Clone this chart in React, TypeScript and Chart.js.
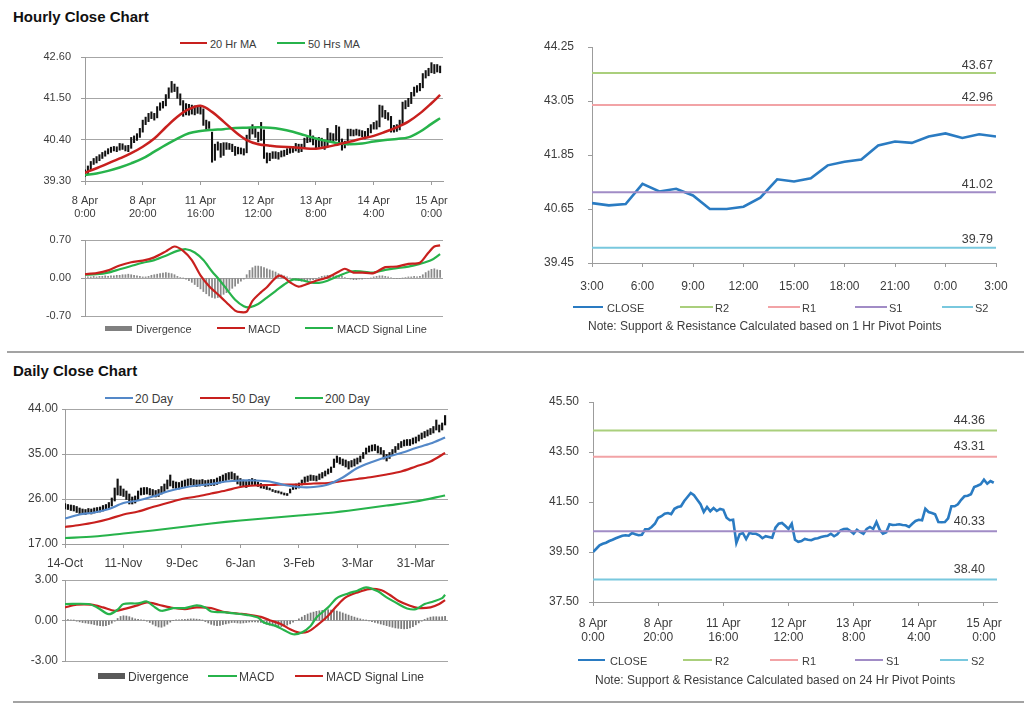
import React, { useEffect, useRef } from 'react';
import { Chart, registerables } from 'chart.js';
Chart.register(...registerables);

const FONT = 'Arial, "Liberation Sans", Helvetica, sans-serif';
const TXT = '#3c3c3c';
const GRID = '#a6a6a6';
const AXIS = '#9c9c9c';
const RED = '#c8201e';
const GREEN = '#27b34b';
const BLUE20 = '#5488c8';
const CLOSE_BLUE = '#2a7bc2';
const DIV_GRAY = '#8a8a8a';

// ---------------- Hourly close chart ----------------
const hourlyTickIdx = [0, 20, 40, 60, 80, 100, 120];
const hourlyTickLabels = [['8 Apr', '0:00'], ['8 Apr', '20:00'], ['11 Apr', '16:00'], ['12 Apr', '12:00'], ['13 Apr', '8:00'], ['14 Apr', '4:00'], ['15 Apr', '0:00']];
const hourlyPriceTicks = [39.3, 40.4, 41.5, 42.6];

const hourlyClose = [
  39.50, 39.63, 39.77, 39.83, 39.87, 39.94, 39.99, 40.05, 40.10, 40.15,
  40.17, 40.15, 40.26, 40.21, 40.17, 40.19, 40.41, 40.41, 40.50, 40.63,
  40.87, 40.93, 41.03, 41.06, 41.01, 41.23, 41.30, 41.33, 41.54, 41.70,
  41.86, 41.77, 41.59, 41.41, 41.10, 41.30, 41.13, 41.26, 41.14, 41.22,
  41.19, 40.87, 40.77, 40.79, 39.86, 40.21, 40.26, 40.02, 40.26, 40.23,
  40.23, 40.17, 40.05, 40.13, 40.10, 40.07, 40.47, 40.63, 40.66, 40.55,
  40.42, 40.63, 39.99, 39.91, 39.94, 40.02, 39.99, 39.97, 40.03, 40.05,
  40.10, 40.13, 40.15, 40.23, 40.13, 40.21, 40.37, 40.42, 40.43, 40.34,
  40.23, 40.39, 40.30, 40.23, 40.42, 40.50, 40.42, 40.70, 40.39, 40.23,
  40.29, 40.61, 40.58, 40.59, 40.61, 40.58, 40.57, 40.50, 40.63, 40.74,
  40.79, 40.77, 41.23, 41.10, 41.06, 41.01, 40.70, 40.69, 40.70, 40.85,
  41.33, 41.33, 41.41, 41.59, 41.73, 41.75, 41.81, 42.10, 42.15, 42.21,
  42.39, 42.23, 42.34, 42.27,
];
const hourlyLow = [
  39.42, 39.48, 39.60, 39.74, 39.78, 39.84, 39.90, 39.96, 40.02, 40.06,
  40.10, 40.08, 40.12, 40.14, 40.10, 40.08, 40.17, 40.32, 40.38, 40.46,
  40.60, 40.80, 40.88, 40.96, 40.92, 40.98, 41.18, 41.24, 41.30, 41.50,
  41.66, 41.68, 41.50, 41.32, 41.02, 41.06, 41.05, 41.08, 41.06, 41.10,
  41.08, 40.78, 40.68, 40.70, 39.80, 39.85, 40.12, 39.93, 39.98, 40.14,
  40.14, 40.08, 39.98, 40.02, 40.02, 39.99, 40.05, 40.42, 40.55, 40.46,
  40.34, 40.38, 39.90, 39.78, 39.84, 39.90, 39.90, 39.88, 39.94, 39.96,
  40.00, 40.04, 40.06, 40.10, 40.06, 40.08, 40.18, 40.32, 40.34, 40.26,
  40.16, 40.20, 40.22, 40.14, 40.20, 40.36, 40.34, 40.38, 40.28, 40.12,
  40.18, 40.26, 40.50, 40.50, 40.52, 40.50, 40.48, 40.42, 40.46, 40.58,
  40.68, 40.68, 40.74, 41.00, 40.96, 40.92, 40.60, 40.60, 40.62, 40.66,
  40.82, 41.22, 41.28, 41.36, 41.56, 41.66, 41.70, 41.78, 42.04, 42.10,
  42.18, 42.16, 42.20, 42.18,
];
const hourlyHigh = [
  39.60, 39.70, 39.82, 39.90, 39.95, 40.00, 40.06, 40.10, 40.16, 40.20,
  40.22, 40.21, 40.30, 40.29, 40.24, 40.25, 40.46, 40.50, 40.56, 40.70,
  40.92, 41.00, 41.10, 41.14, 41.10, 41.28, 41.38, 41.42, 41.60, 41.78,
  41.95, 41.88, 41.80, 41.62, 41.44, 41.36, 41.34, 41.32, 41.30, 41.30,
  41.28, 41.22, 40.92, 40.88, 40.60, 40.28, 40.34, 40.30, 40.32, 40.32,
  40.30, 40.28, 40.22, 40.20, 40.18, 40.16, 40.52, 40.72, 40.80, 40.70,
  40.60, 40.86, 40.66, 40.05, 40.04, 40.08, 40.08, 40.06, 40.10, 40.12,
  40.16, 40.20, 40.22, 40.30, 40.28, 40.28, 40.44, 40.50, 40.66, 40.50,
  40.40, 40.46, 40.44, 40.36, 40.70, 40.58, 40.56, 40.78, 40.74, 40.42,
  40.36, 40.68, 40.68, 40.66, 40.68, 40.66, 40.64, 40.62, 40.70, 40.80,
  40.86, 40.90, 41.32, 41.30, 41.18, 41.12, 41.02, 40.78, 40.80, 40.92,
  41.40, 41.44, 41.50, 41.66, 41.80, 41.84, 41.90, 42.16, 42.24, 42.30,
  42.45, 42.40, 42.40, 42.36,
];
const hourlyMaIdx = [0, 4, 8, 12, 16, 20, 24, 28, 32, 36, 40, 44, 48, 52, 56, 60, 64, 68, 72, 76, 80, 84, 88, 92, 96, 100, 104, 108, 112, 116, 120, 123];
const ma20Hr = [39.52, 39.64, 39.77, 39.90, 40.04, 40.21, 40.43, 40.73, 41.01, 41.21, 41.30, 41.14, 40.88, 40.61, 40.39, 40.28, 40.24, 40.21, 40.20, 40.17, 40.16, 40.21, 40.28, 40.35, 40.43, 40.50, 40.61, 40.73, 40.88, 41.10, 41.37, 41.59];
const ma50Hr = [39.46, 39.50, 39.57, 39.66, 39.77, 39.90, 40.08, 40.26, 40.43, 40.57, 40.63, 40.66, 40.68, 40.71, 40.72, 40.73, 40.72, 40.68, 40.61, 40.52, 40.43, 40.36, 40.30, 40.28, 40.30, 40.35, 40.39, 40.42, 40.46, 40.61, 40.82, 40.97];

const hourlyMacdTicks = [-0.7, 0, 0.7];
const hMacdIdx = [0, 4, 8, 12, 16, 20, 24, 28, 31, 34, 37, 40, 43, 46, 49, 52, 54, 56, 58, 61, 63, 65, 67, 69, 71, 74, 77, 80, 84, 88, 90, 93, 96, 100, 104, 108, 112, 116, 119, 121, 123];
const hMacd = [0.07, 0.09, 0.14, 0.23, 0.29, 0.32, 0.38, 0.49, 0.58, 0.50, 0.33, 0.05, -0.15, -0.30, -0.45, -0.60, -0.63, -0.62, -0.42, -0.26, -0.17, -0.05, 0.04, 0.01, -0.08, -0.16, -0.11, -0.05, 0.01, 0.12, 0.17, 0.10, 0.10, 0.09, 0.20, 0.21, 0.26, 0.28, 0.47, 0.58, 0.60];
const hSignalIdx = [0, 4, 8, 12, 16, 20, 24, 28, 32, 35, 38, 41, 44, 46, 49, 52, 55, 57, 60, 63, 66, 69, 72, 75, 78, 81, 84, 88, 92, 96, 100, 104, 108, 112, 116, 120, 123];
const hSignal = [0.06, 0.07, 0.10, 0.16, 0.22, 0.28, 0.33, 0.41, 0.50, 0.53, 0.47, 0.33, 0.12, 0.00, -0.20, -0.40, -0.52, -0.54, -0.48, -0.36, -0.24, -0.12, -0.03, -0.04, -0.08, -0.09, -0.05, 0.04, 0.12, 0.12, 0.10, 0.15, 0.18, 0.21, 0.26, 0.33, 0.44];
const hDivergence = [
  0.01, 0.02, 0.02, 0.03, 0.02, 0.03, 0.03, 0.04, 0.03, 0.04,
  0.04, 0.05, 0.05, 0.06, 0.06, 0.07, 0.06, 0.05, 0.04, 0.03,
  0.02, 0.02, 0.03, 0.05, 0.06, 0.07, 0.08, 0.09, 0.10, 0.09,
  0.08, 0.06, 0.03, 0.01, 0.00, -0.02, -0.05, -0.08, -0.12, -0.16,
  -0.20, -0.25, -0.29, -0.33, -0.36, -0.37, -0.36, -0.33, -0.30, -0.27,
  -0.23, -0.19, -0.15, -0.10, -0.06, -0.02, 0.06, 0.14, 0.19, 0.22,
  0.22, 0.21, 0.19, 0.17, 0.15, 0.13, 0.11, 0.08, 0.06, 0.04,
  0.02, 0.00, -0.02, -0.04, -0.05, -0.06, -0.06, -0.05, -0.04, -0.03,
  -0.02, 0.01, 0.03, 0.04, 0.05, 0.05, 0.05, 0.04, 0.04, 0.03,
  0.01, -0.01, -0.02, -0.03, -0.03, -0.02, -0.02, -0.01, -0.01, 0.00,
  0.02, 0.03, 0.04, 0.04, 0.03, 0.02, 0.01, -0.01, -0.01, -0.01,
  0.00, 0.01, 0.02, 0.02, 0.03, 0.02, 0.03, 0.06, 0.10, 0.13,
  0.16, 0.17, 0.15, 0.14,
];

// ---------------- 1 Hr pivot chart ----------------
const pivot1TickIdx = [0, 3, 6, 9, 12, 15, 18, 21, 24];
const pivot1TickLabels = ['3:00', '6:00', '9:00', '12:00', '15:00', '18:00', '21:00', '0:00', '3:00'];
const pivot1Ticks = [39.45, 40.65, 41.85, 43.05, 44.25];
const pivot1Close = [40.78, 40.73, 40.76, 41.21, 41.04, 41.10, 40.95, 40.65, 40.65, 40.70, 40.90, 41.31, 41.26, 41.33, 41.62, 41.70, 41.75, 42.06, 42.15, 42.12, 42.26, 42.33, 42.23, 42.31, 42.26];
const pivotNames = ['R2', 'R1', 'S1', 'S2'];
const pivotColors = ['#aacf7c', '#f2a3a6', '#a18cc6', '#79c8de'];
const pivot1Values = [43.67, 42.96, 41.02, 39.79];

// ---------------- 24 Hr pivot chart ----------------
const pivot24Ticks = [37.5, 39.5, 41.5, 43.5, 45.5];
const pivot24Values = [44.36, 43.31, 40.33, 38.40];

// ---------------- Daily close chart ----------------
const dailyTickIdx = [0, 20, 40, 60, 80, 100, 120];
const dailyTickLabels = ['14-Oct', '11-Nov', '9-Dec', '6-Jan', '3-Feb', '3-Mar', '31-Mar'];
const dailyPriceTicks = [17, 26, 35, 44];
const dailyLow = [
  24.0, 23.9, 23.7, 23.6, 23.3, 23.1, 23.0, 22.9, 23.1, 23.0,
  23.2, 23.3, 23.4, 23.6, 23.9, 24.2, 24.6, 25.6, 26.8, 26.7,
  26.5, 25.9, 25.0, 25.0, 25.2, 25.9, 26.8, 26.9, 27.0, 26.8,
  26.6, 26.4, 26.5, 27.0, 27.4, 28.0, 28.6, 28.2, 28.1, 28.0,
  28.3, 28.5, 28.7, 28.8, 28.6, 28.5, 28.6, 28.7, 28.5, 28.6,
  28.7, 28.7, 28.9, 29.2, 29.4, 29.7, 29.9, 30.0, 29.6, 29.0,
  28.7, 28.5, 28.3, 28.7, 28.9, 28.7, 28.5, 28.2, 28.1, 27.9,
  27.8, 27.5, 27.3, 27.2, 27.0, 26.8, 26.7, 27.2, 27.9, 28.0,
  28.2, 28.8, 29.3, 29.5, 29.7, 29.7, 29.6, 29.9, 30.2, 30.6,
  31.0, 31.3, 32.3, 33.3, 33.0, 32.7, 32.4, 32.0, 32.4, 32.6,
  33.0, 33.4, 34.1, 35.0, 35.4, 35.6, 35.7, 35.2, 35.0, 34.0,
  33.6, 34.1, 34.7, 35.3, 35.9, 36.3, 36.6, 36.7, 36.7, 37.0,
  37.2, 37.6, 38.0, 38.3, 38.6, 38.9, 39.2, 39.8, 39.4, 39.8,
  40.8,
];
const dailyHigh = [
  25.1, 24.9, 24.8, 24.7, 24.5, 24.2, 24.0, 23.9, 24.1, 24.0,
  24.2, 24.3, 24.4, 24.7, 24.9, 25.3, 26.2, 28.2, 30.0, 28.6,
  28.0, 27.6, 27.0, 26.4, 26.6, 27.6, 28.2, 28.3, 28.3, 28.1,
  27.9, 27.7, 27.9, 28.5, 29.0, 29.8, 30.8, 29.6, 29.4, 29.3,
  29.6, 29.8, 30.0, 30.1, 29.9, 29.8, 29.8, 29.9, 29.7, 29.8,
  29.9, 29.9, 30.2, 30.5, 30.8, 31.1, 31.3, 31.4, 31.1, 30.6,
  30.1, 29.8, 29.5, 29.9, 30.1, 29.9, 29.4, 29.1, 28.7, 28.5,
  28.2, 27.9, 27.7, 27.6, 27.4, 27.2, 27.1, 28.0, 28.8, 29.0,
  29.2, 29.8, 30.4, 30.6, 30.8, 30.7, 30.6, 31.0, 31.3, 31.6,
  32.0, 32.4, 34.0, 34.6, 34.3, 34.0, 33.8, 33.5, 33.7, 34.0,
  34.2, 34.6, 35.3, 36.2, 36.6, 36.8, 36.9, 36.6, 36.3, 35.7,
  34.9, 35.3, 35.9, 36.5, 37.1, 37.5, 37.8, 37.9, 37.9, 38.2,
  38.4, 38.8, 39.2, 39.5, 39.8, 40.1, 40.5, 41.8, 40.8, 41.2,
  42.7,
];
const dailyMaIdx = [0, 5, 10, 15, 20, 25, 30, 35, 40, 45, 50, 55, 60, 65, 70, 75, 80, 85, 90, 95, 100, 105, 110, 115, 120, 125, 130];
const ma20Day = [22.1, 22.9, 23.3, 24.0, 25.2, 25.7, 26.5, 27.5, 28.2, 28.7, 29.0, 29.5, 29.7, 29.7, 29.5, 28.8, 28.4, 28.4, 28.9, 30.3, 32.2, 33.4, 34.4, 35.2, 36.2, 37.1, 38.3];
const ma50Day = [20.4, 20.8, 21.3, 22.0, 22.9, 23.5, 24.4, 25.2, 26.0, 26.5, 27.1, 27.7, 28.4, 28.7, 28.8, 28.9, 28.9, 29.1, 29.2, 29.6, 30.0, 30.4, 30.9, 31.5, 32.5, 33.5, 35.2];
const ma200Idx = [0, 10, 20, 30, 40, 50, 60, 70, 80, 90, 100, 110, 120, 130];
const ma200Day = [18.2, 18.5, 19.1, 19.7, 20.4, 21.1, 21.7, 22.2, 22.7, 23.2, 23.9, 24.7, 25.5, 26.7];

const dailyMacdTicks = [-3, 0, 3];
const dMacdIdx = [0, 8, 11, 15, 18, 20, 25, 28, 30, 33, 37, 41, 45, 48, 50, 55, 59, 62, 66, 68, 72, 75, 78, 81, 84, 86, 90, 93, 97, 100, 103, 107, 110, 114, 117, 120, 123, 126, 129, 130];
const dMacd = [1.22, 1.22, 0.97, 0.47, 0.80, 1.22, 1.27, 1.41, 1.10, 0.72, 0.92, 0.92, 1.12, 0.97, 0.67, 0.60, 0.50, 0.42, 0.22, -0.15, -0.40, -0.72, -1.02, -0.89, -0.40, 0.22, 0.97, 1.66, 2.01, 2.21, 2.46, 2.16, 1.71, 1.22, 0.89, 0.84, 1.22, 1.41, 1.66, 1.91];
const dSignalIdx = [0, 4, 9, 13, 17, 20, 25, 28, 32, 36, 41, 45, 50, 54, 59, 63, 67, 70, 74, 77, 80, 83, 86, 90, 93, 96, 100, 104, 108, 111, 114, 118, 121, 125, 128, 130];
const dSignal = [0.97, 1.17, 1.17, 0.97, 0.72, 0.84, 1.14, 1.34, 1.17, 0.97, 0.84, 0.97, 0.92, 0.65, 0.52, 0.42, 0.27, 0.02, -0.27, -0.65, -0.89, -0.84, -0.40, 0.35, 1.09, 1.71, 2.08, 2.33, 2.26, 1.91, 1.46, 1.09, 0.92, 0.97, 1.22, 1.51];
const dDivergence = [
  0.05, 0.06, 0.04, 0.02,
  -0.05, -0.10, -0.15, -0.18, -0.22, -0.25,
  -0.30, -0.35, -0.38, -0.40, -0.38, -0.30,
  -0.20, -0.05, 0.15, 0.30,
  0.35, 0.33, 0.28, 0.20, 0.12,
  0.08, 0.05, 0.02, -0.05, -0.15,
  -0.28, -0.40, -0.48, -0.50, -0.42, -0.28,
  -0.12, 0.00, 0.05, 0.05, 0.06, 0.08, 0.10, 0.12,
  0.12, 0.10, 0.08, 0.02, -0.08,
  -0.18, -0.28, -0.35, -0.38, -0.36, -0.30, -0.25, -0.20, -0.15,
  -0.15, -0.18, -0.20, -0.18, -0.15, -0.12, -0.10, -0.10,
  -0.12, -0.15, -0.20,
  -0.28, -0.35, -0.40, -0.44, -0.46, -0.45, -0.40, -0.34, -0.25,
  -0.12, 0.00, 0.12, 0.25, 0.38,
  0.48, 0.56, 0.62, 0.68, 0.72, 0.75, 0.78, 0.80, 0.78, 0.74, 0.70, 0.64, 0.56, 0.48, 0.40,
  0.32, 0.25, 0.18, 0.12, 0.06, 0.02, -0.02,
  -0.08, -0.14, -0.20, -0.26, -0.32, -0.38,
  -0.44, -0.50, -0.55, -0.58, -0.60, -0.62, -0.60, -0.55, -0.45, -0.32, -0.18, -0.05,
  0.08, 0.18, 0.25, 0.28, 0.28, 0.27, 0.28, 0.30,
];

// ---------------- helpers ----------------
const pts = (xs: number[], ys: any[]) => xs.map((x, i) => ({ x, y: ys[i] }));
const seq = (ys: any[]) => ys.map((y, i) => ({ x: i, y }));
const ranges = (lo: number[], hi: number[]) => lo.map((l, i) => ({ x: i, y: [l, hi[i]] }));

function yAxis(o: any) {
  return {
    type: 'linear',
    position: 'left',
    min: o.min,
    max: o.max,
    afterBuildTicks: (s: any) => { s.ticks = o.ticks.map((v: number) => ({ value: v })); },
    afterFit: (s: any) => {
      s.width = o.width;
      s.paddingTop = 0;
      s.paddingBottom = 0;
    },
    ticks: {
      color: TXT,
      font: { family: FONT, size: o.size },
      padding: o.pad,
      callback: (v: any) => Number(v).toFixed(2),
    },
    grid: { color: GRID, lineWidth: 1, drawOnChartArea: o.grid, drawTicks: true, tickLength: o.tickLen, tickColor: AXIS },
    border: { color: AXIS, width: 1 },
  };
}

function xAxis(o: any) {
  return {
    type: 'linear',
    display: o.display !== false,
    min: o.min,
    max: o.max,
    offset: false,
    afterBuildTicks: (s: any) => { s.ticks = (o.ticks || []).map((v: number) => ({ value: v })); },
    afterFit: (s: any) => {
      if (o.height !== undefined) s.height = o.height;
      s.paddingLeft = 0;
      s.paddingRight = 0;
    },
    ticks: {
      color: TXT,
      font: { family: FONT, size: o.size || 11 },
      padding: o.pad || 4,
      maxRotation: 0,
      minRotation: 0,
      autoSkip: false,
      callback: (v: any) => {
        const k = (o.ticks || []).indexOf(v);
        return k >= 0 ? o.labels[k] : '';
      },
    },
    grid: { drawOnChartArea: false, drawTicks: true, tickLength: 4, color: AXIS, offset: false },
    border: { color: AXIS, width: 1 },
  };
}

function baseOptions(padding: any, x: any, y: any) {
  return {
    responsive: false,
    animation: false,
    events: [],
    layout: { padding },
    plugins: { legend: { display: false }, tooltip: { enabled: false } },
    scales: { x, y },
  };
}

const line = (label: string, data: any[], color: string, width: number, tension: number) => ({
  type: 'line',
  label,
  data,
  borderColor: color,
  backgroundColor: color,
  borderWidth: width,
  pointRadius: 0,
  tension,
  fill: false,
  order: 0,
});

const pivotLabelPlugin = (values: number[], dy: number, dx: number) => ({
  id: 'pivotLabels',
  afterDatasetsDraw(chart: any) {
    const { ctx, chartArea, scales } = chart;
    ctx.save();
    ctx.font = `12.5px ${FONT}`;
    ctx.fillStyle = TXT;
    ctx.textAlign = 'right';
    ctx.textBaseline = 'middle';
    values.forEach((v) => ctx.fillText(v.toFixed(2), chartArea.right - dx, scales.y.getPixelForValue(v) - dy));
    ctx.restore();
  },
});

// ---------------- chart configs ----------------
const hourlyPriceConfig = () => ({
  type: 'line',
  data: {
    datasets: [
      line('20 Hr MA', pts(hourlyMaIdx, ma20Hr), RED, 2.5, 0.35),
      line('50 Hrs MA', pts(hourlyMaIdx, ma50Hr), GREEN, 2.5, 0.35),
      { type: 'bar', label: 'Price', data: ranges(hourlyLow, hourlyHigh), backgroundColor: '#111111', barThickness: 1.4, grouped: false, order: 1 },
    ],
  },
  options: baseOptions(
    { left: 0, top: 7, right: 17, bottom: 0 },
    xAxis({ min: 0, max: 124, ticks: hourlyTickIdx, labels: hourlyTickLabels, height: 49, size: 11, pad: 9 }),
    yAxis({ min: 39.3, max: 42.6, ticks: hourlyPriceTicks, width: 85, size: 11, grid: true, tickLen: 4, pad: 10 }),
  ),
});

const hourlyMacdConfig = () => ({
  type: 'line',
  data: {
    datasets: [
      line('MACD', pts(hMacdIdx, hMacd), RED, 2.2, 0.25),
      line('MACD Signal Line', pts(hSignalIdx, hSignal), GREEN, 2.2, 0.3),
      { type: 'bar', label: 'Divergence', data: seq(hDivergence), backgroundColor: DIV_GRAY, barThickness: 1.1, grouped: false, order: 1 },
    ],
  },
  options: baseOptions(
    { left: 0, top: 8, right: 17, bottom: 10 },
    xAxis({ min: 0, max: 124, display: false }),
    yAxis({ min: -0.7, max: 0.7, ticks: hourlyMacdTicks, width: 85, size: 11, grid: true, tickLen: 4, pad: 10 }),
  ),
});

const pivotDatasets = (closeData: any[], values: number[], xMax: number) => [
  line('CLOSE', closeData, CLOSE_BLUE, 2.6, 0),
  ...values.map((v, i) => line(pivotNames[i], [{ x: 0, y: v }, { x: xMax, y: v }], pivotColors[i], 2, 0)),
];

const pivot1Config = () => ({
  type: 'line',
  data: { datasets: pivotDatasets(seq(pivot1Close), pivot1Values, 24).reverse() },
  options: baseOptions(
    { left: 0, top: 12, right: 28, bottom: 0 },
    xAxis({ min: 0, max: 24, ticks: pivot1TickIdx, labels: pivot1TickLabels, height: 34, size: 12, pad: 12 }),
    yAxis({ min: 39.45, max: 44.25, ticks: pivot1Ticks, width: 72, size: 12, grid: false, tickLen: 4, pad: 14 }),
  ),
  plugins: [pivotLabelPlugin(pivot1Values, 8, 3)],
});

const pivot24Config = () => ({
  type: 'line',
  data: { datasets: pivotDatasets(seq(hourlyClose), pivot24Values, 124).reverse() },
  options: baseOptions(
    { left: 0, top: 12, right: 27, bottom: 0 },
    xAxis({ min: 0, max: 124, ticks: hourlyTickIdx, labels: hourlyTickLabels, height: 53, size: 12, pad: 10 }),
    yAxis({ min: 37.5, max: 45.5, ticks: pivot24Ticks, width: 73, size: 12, grid: false, tickLen: 4, pad: 10 }),
  ),
  plugins: [pivotLabelPlugin(pivot24Values, 10, 12)],
});

const dailyPriceConfig = () => ({
  type: 'line',
  data: {
    datasets: [
      line('20 Day', pts(dailyMaIdx, ma20Day), BLUE20, 2.2, 0.3),
      line('50 Day', pts(dailyMaIdx, ma50Day), RED, 2.2, 0.3),
      line('200 Day', pts(ma200Idx, ma200Day), GREEN, 2.2, 0.3),
      { type: 'bar', label: 'Price', data: ranges(dailyLow, dailyHigh), backgroundColor: '#111111', barThickness: 1.5, grouped: false, order: 1 },
    ],
  },
  options: baseOptions(
    { left: 0, top: 9, right: 12, bottom: 0 },
    xAxis({ min: 0, max: 131, ticks: dailyTickIdx, labels: dailyTickLabels, height: 31, size: 12, pad: 8 }),
    yAxis({ min: 17, max: 44, ticks: dailyPriceTicks, width: 65, size: 12, grid: true, tickLen: 3, pad: 4 }),
  ),
});

const dailyMacdConfig = () => ({
  type: 'line',
  data: {
    datasets: [
      line('MACD', pts(dMacdIdx, dMacd), GREEN, 2.2, 0.3),
      line('MACD Signal Line', pts(dSignalIdx, dSignal), RED, 2.2, 0.3),
      { type: 'bar', label: 'Divergence', data: seq(dDivergence), backgroundColor: '#7a7a7a', barThickness: 1.1, grouped: false, order: 1 },
    ],
  },
  options: baseOptions(
    { left: 0, top: 8, right: 12, bottom: 6 },
    xAxis({ min: 0, max: 131, display: false }),
    yAxis({ min: -3, max: 3, ticks: dailyMacdTicks, width: 65, size: 12, grid: true, tickLen: 3, pad: 4 }),
  ),
});

// ---------------- components ----------------
function ChartCanvas({ left, top, width, height, make }: any) {
  const ref = useRef<HTMLCanvasElement | null>(null);
  useEffect(() => {
    const chart = new Chart(ref.current as HTMLCanvasElement, make() as any);
    return () => chart.destroy();
  }, []);
  return (
    <div style={{ position: 'absolute', left, top, width, height }}>
      <canvas ref={ref} width={width} height={height} style={{ display: 'block', width, height }} />
    </div>
  );
}

function Key({ x1, x2, y, color, h = 2 }: any) {
  return <div style={{ position: 'absolute', left: x1, top: y - h / 2, width: x2 - x1, height: h, background: color }} />;
}

function Text({ x, y, children, size = 11, bold = false, color = TXT }: any) {
  return (
    <div
      style={{
        position: 'absolute',
        left: x,
        top: y,
        transform: 'translateY(-50%)',
        fontFamily: FONT,
        fontSize: size,
        fontWeight: bold ? 'bold' : 'normal',
        color,
        whiteSpace: 'nowrap',
        lineHeight: 1,
      }}
    >
      {children}
    </div>
  );
}

export default function App() {
  return (
    <div style={{ position: 'absolute', left: 0, top: 0, width: 1024, height: 706, background: '#ffffff', overflow: 'hidden' }}>
      <Text x={13} y={16} size={15} bold color="#111">Hourly Close Chart</Text>
      <Text x={13} y={370} size={15} bold color="#111">Daily Close Chart</Text>
      <div style={{ position: 'absolute', left: 7, top: 351, width: 1017, height: 2, background: '#a3a3a3' }} />
      <div style={{ position: 'absolute', left: 13, top: 701, width: 1011, height: 2, background: '#a3a3a3' }} />

      {/* Hourly price */}
      <Key x1={180} x2={207} y={43} color={RED} />
      <Text x={210} y={44}>20 Hr MA</Text>
      <Key x1={277} x2={305} y={43} color={GREEN} />
      <Text x={308} y={44}>50 Hrs MA</Text>
      <ChartCanvas left={0} top={50} width={460} height={180} make={hourlyPriceConfig} />

      {/* Hourly MACD */}
      <ChartCanvas left={0} top={232} width={460} height={94} make={hourlyMacdConfig} />
      <Key x1={105} x2={132} y={328} color="#808080" h={5} />
      <Text x={136} y={329}>Divergence</Text>
      <Key x1={217} x2={245} y={328} color={RED} />
      <Text x={248} y={329}>MACD</Text>
      <Key x1={305} x2={333} y={328} color={GREEN} />
      <Text x={337} y={329}>MACD Signal Line</Text>

      {/* 1 Hr pivot */}
      <ChartCanvas left={520} top={35} width={504} height={262} make={pivot1Config} />
      <Key x1={573} x2={603} y={307} color={CLOSE_BLUE} h={2.5} />
      <Text x={607} y={308}>CLOSE</Text>
      <Key x1={680} x2={713} y={307} color={pivotColors[0]} h={1.5} />
      <Text x={715} y={308}>R2</Text>
      <Key x1={768} x2={800} y={307} color={pivotColors[1]} h={1.5} />
      <Text x={802} y={308}>R1</Text>
      <Key x1={855} x2={887} y={307} color={pivotColors[2]} h={1.5} />
      <Text x={889} y={308}>S1</Text>
      <Key x1={942} x2={973} y={307} color={pivotColors[3]} h={1.5} />
      <Text x={975} y={308}>S2</Text>
      <Text x={588} y={326} size={12}>Note: Support &amp; Resistance Calculated based on 1 Hr Pivot Points</Text>

      {/* Daily price */}
      <Key x1={105} x2={133} y={398} color={BLUE20} />
      <Text x={135} y={399} size={12}>20 Day</Text>
      <Key x1={200} x2={230} y={398} color={RED} />
      <Text x={232} y={399} size={12}>50 Day</Text>
      <Key x1={295} x2={323} y={398} color={GREEN} />
      <Text x={325} y={399} size={12}>200 Day</Text>
      <ChartCanvas left={0} top={400} width={460} height={175} make={dailyPriceConfig} />

      {/* Daily MACD */}
      <ChartCanvas left={0} top={572} width={460} height={95} make={dailyMacdConfig} />
      <Key x1={98} x2={125} y={676} color="#595959" h={6} />
      <Text x={128} y={677} size={12}>Divergence</Text>
      <Key x1={208} x2={237} y={676} color={GREEN} />
      <Text x={239} y={677} size={12}>MACD</Text>
      <Key x1={295} x2={323} y={676} color={RED} />
      <Text x={326} y={677} size={12}>MACD Signal Line</Text>

      {/* 24 Hr pivot */}
      <ChartCanvas left={520} top={390} width={504} height={265} make={pivot24Config} />
      <Key x1={578} x2={605} y={660} color={CLOSE_BLUE} h={2.5} />
      <Text x={610} y={661}>CLOSE</Text>
      <Key x1={683} x2={712} y={660} color={pivotColors[0]} h={1.5} />
      <Text x={715} y={661}>R2</Text>
      <Key x1={770} x2={798} y={660} color={pivotColors[1]} h={1.5} />
      <Text x={802} y={661}>R1</Text>
      <Key x1={855} x2={883} y={660} color={pivotColors[2]} h={1.5} />
      <Text x={886} y={661}>S1</Text>
      <Key x1={940} x2={968} y={660} color={pivotColors[3]} h={1.5} />
      <Text x={971} y={661}>S2</Text>
      <Text x={595} y={680} size={12}>Note: Support &amp; Resistance Calculated based on 24 Hr Pivot Points</Text>
    </div>
  );
}
